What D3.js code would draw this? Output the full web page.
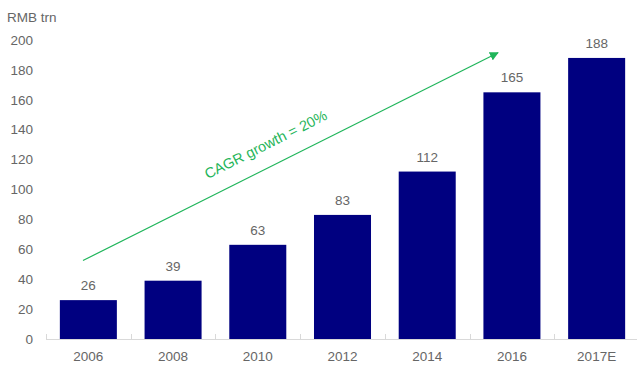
<!DOCTYPE html>
<html>
<head>
<meta charset="utf-8">
<script src="https://cdn.jsdelivr.net/npm/d3@7"></script>
<style>
  html, body { margin: 0; padding: 0; background: #fff; }
  svg { display: block; }
  text { font-family: "Liberation Sans", Arial, sans-serif; }
</style>
</head>
<body>
<svg id="chart" width="637" height="365"></svg>
<script>
// Outstanding volume by year, RMB trillion
const categories = ["2006", "2008", "2010", "2012", "2014", "2016", "2017E"];
const values = [26, 39, 63, 83, 112, 165, 188];
const yTicks = [0, 20, 40, 60, 80, 100, 120, 140, 160, 180, 200];
const unitLabel = "RMB trn";
const trendLabel = "CAGR growth = 20%";

(function draw() {
  const svg = d3.select("#chart");
  const W = 637;
  const plotLeft = 46, plotRight = 639, plotTop = 40, plotBottom = 339;

  const x = d3.scaleBand()
    .domain(categories)
    .range([plotLeft, plotRight])
    .paddingInner(0.327)
    .paddingOuter(0.1635);

  const y = d3.scaleLinear().domain([0, 200]).range([plotBottom, plotTop]);

  const textColor = "#666666";
  const barColor = "#000080";
  const green = "#1fb55a";

  // y-axis labels (no axis line)
  svg.append("g")
    .selectAll("text")
    .data(yTicks)
    .join("text")
    .attr("x", 33)
    .attr("y", d => y(d))
    .attr("dy", "0.35em")
    .attr("text-anchor", "end")
    .attr("font-size", 13.5)
    .attr("fill", textColor)
    .text(d => d);

  svg.append("text")
    .attr("x", 7)
    .attr("y", 22)
    .attr("font-size", 13.5)
    .attr("fill", textColor)
    .text(unitLabel);

  // bars
  svg.append("g")
    .selectAll("rect")
    .data(values)
    .join("rect")
    .attr("x", (d, i) => x(categories[i]))
    .attr("y", d => y(d))
    .attr("width", x.bandwidth())
    .attr("height", d => y(0) - y(d))
    .attr("fill", barColor);

  // value labels above bars
  svg.append("g")
    .selectAll("text")
    .data(values)
    .join("text")
    .attr("x", (d, i) => x(categories[i]) + x.bandwidth() / 2)
    .attr("y", d => y(d) - 10)
    .attr("text-anchor", "middle")
    .attr("font-size", 13.5)
    .attr("fill", textColor)
    .text(d => d);

  // x axis baseline with dividers between categories
  const axisG = svg.append("g");
  axisG.append("line")
    .attr("x1", plotLeft).attr("x2", W)
    .attr("y1", plotBottom + 0.5).attr("y2", plotBottom + 0.5)
    .attr("stroke", "#d9d9d9").attr("stroke-width", 1);
  const step = x.step();
  axisG.selectAll("line.div")
    .data(d3.range(categories.length + 1))
    .join("line")
    .attr("class", "div")
    .attr("x1", i => Math.round(plotLeft + i * step) + 0.5)
    .attr("x2", i => Math.round(plotLeft + i * step) + 0.5)
    .attr("y1", plotBottom - 5).attr("y2", plotBottom)
    .attr("stroke", "#d9d9d9");

  axisG.selectAll("text")
    .data(categories)
    .join("text")
    .attr("x", d => x(d) + x.bandwidth() / 2)
    .attr("y", 361)
    .attr("text-anchor", "middle")
    .attr("font-size", 13.5)
    .attr("fill", textColor)
    .text(d => d);

  // growth trend arrow
  const defs = svg.append("defs");
  defs.append("marker")
    .attr("id", "arrowHead")
    .attr("viewBox", "0 0 10 10")
    .attr("refX", 9).attr("refY", 5)
    .attr("markerWidth", 9).attr("markerHeight", 9)
    .attr("markerUnits", "userSpaceOnUse")
    .attr("orient", "auto")
    .append("path")
    .attr("d", "M0,0 L10,5 L0,10 Z")
    .attr("fill", green);

  const arrowStart = [83, y(52.5)];
  const arrowEnd = [498, y(191.5)];
  svg.append("line")
    .attr("x1", arrowStart[0]).attr("y1", arrowStart[1])
    .attr("x2", arrowEnd[0]).attr("y2", arrowEnd[1])
    .attr("stroke", green).attr("stroke-width", 1.2)
    .attr("marker-end", "url(#arrowHead)");

  const angle = Math.atan2(arrowEnd[1] - arrowStart[1], arrowEnd[0] - arrowStart[0]) * 180 / Math.PI;
  svg.append("text")
    .attr("transform", `translate(268,149) rotate(${angle})`)
    .attr("text-anchor", "middle")
    .attr("font-size", 14.5)
    .attr("fill", green)
    .text(trendLabel);
})();
</script>
</body>
</html>
